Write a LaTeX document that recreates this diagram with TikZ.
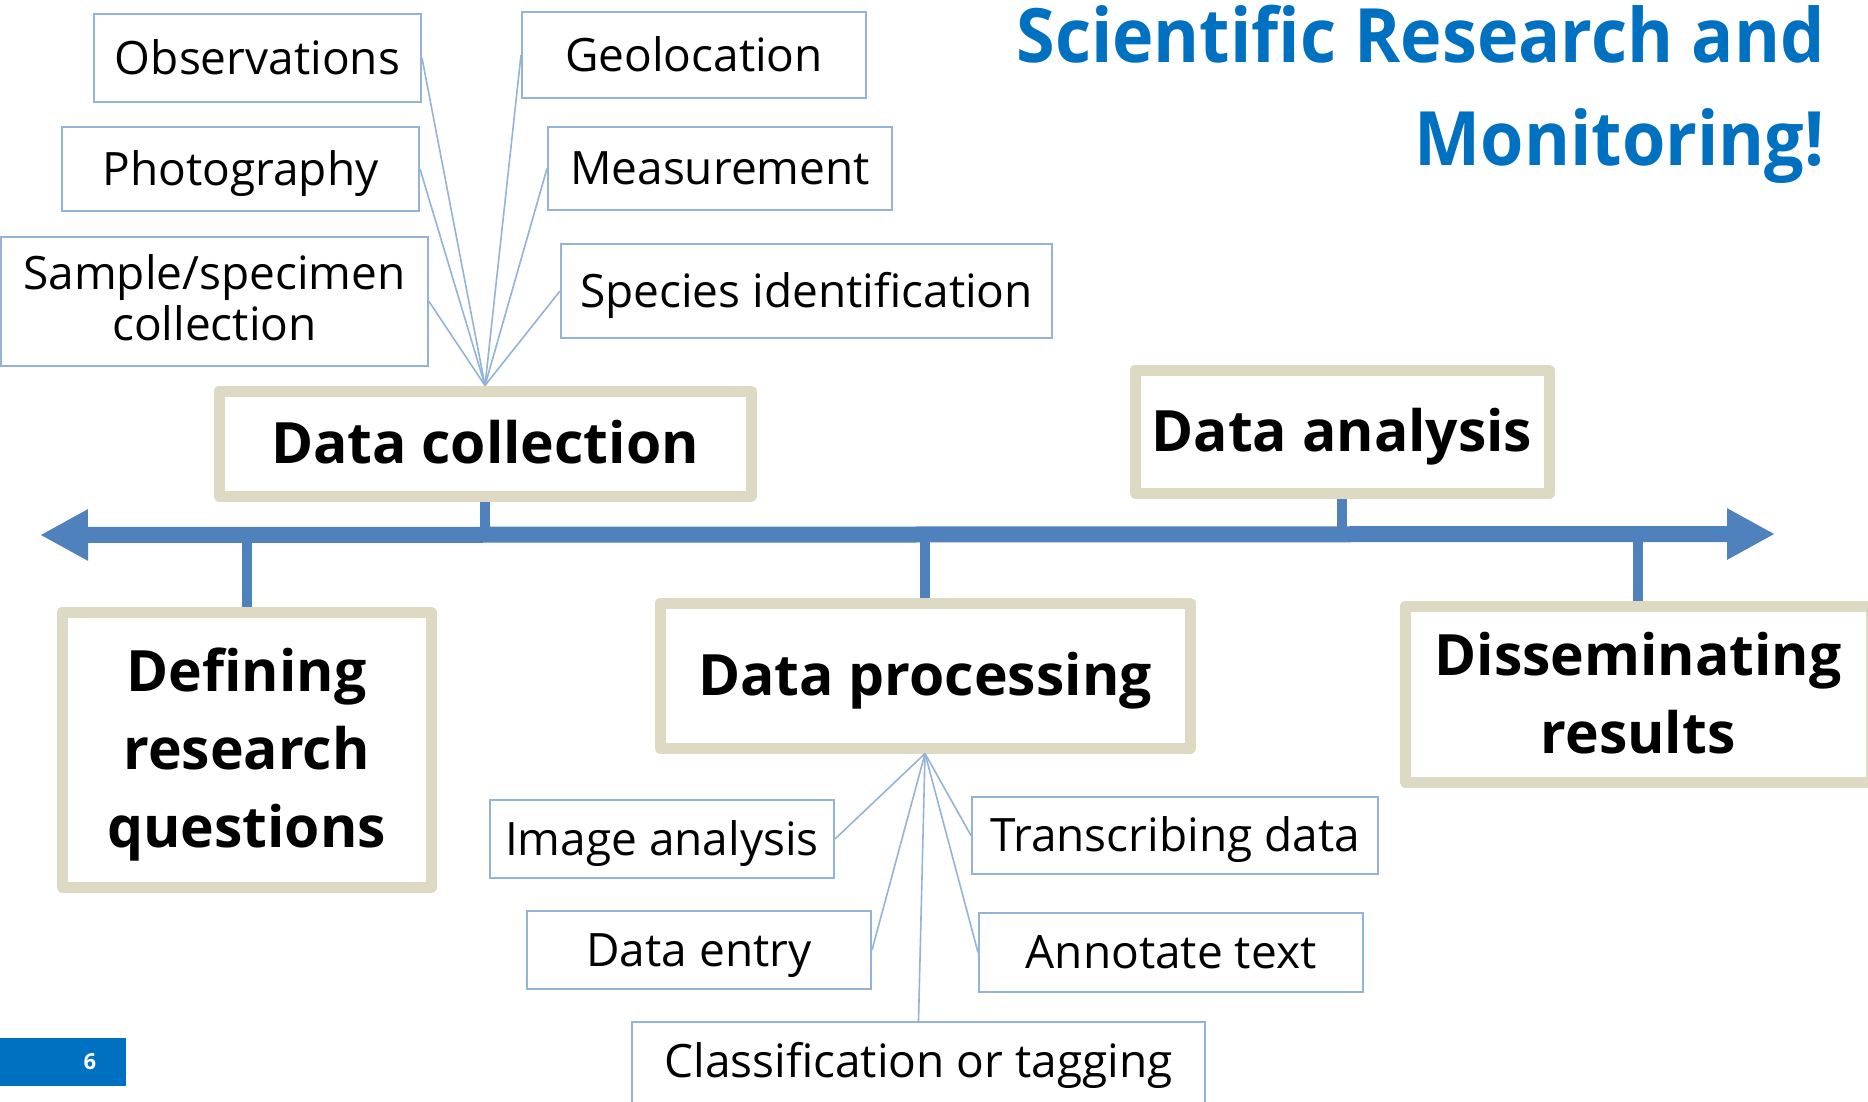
\documentclass[tikz,border=0pt]{standalone}
\usepackage{fontspec}
\setmainfont{Open Sans}
\usetikzlibrary{arrows.meta}
\definecolor{framebeige}{HTML}{DDD9C3}
\definecolor{axisblue}{HTML}{4F81BD}
\definecolor{thinblue}{HTML}{95B3D7}
\definecolor{titleblue}{HTML}{0070C0}

\begin{document}
\begin{tikzpicture}[x=0.5pt,y=-0.5pt,
  stage/.style={draw=framebeige, line width=5.5pt, line join=round, fill=white,
    inner sep=0pt, align=center, font=\bfseries\fontsize{28.5}{39}\selectfont,
    text height=20.35pt, text depth=0pt},
  task/.style={draw=thinblue, line width=1pt, fill=white, inner sep=0pt, align=center,
    font=\fontsize{23}{25.5}\selectfont, text height=16.4pt, text depth=0pt},
  fan/.style={draw=thinblue, line width=0.8pt},
  stub/.style={draw=axisblue, line width=5pt},
  axis/.style={draw=axisblue, line width=8pt,
    {Triangle[width=24pt,length=24pt]}-{Triangle[width=24pt,length=24pt]}},
  headline/.style={anchor=base east, inner sep=0pt, text=titleblue,
    font=\bfseries\fontsize{37.5}{40}\selectfont},
]
\clip (0,0) rectangle (1868,1102);
\useasboundingbox (0,0) rectangle (1868,1102);

% timeline ends
\coordinate (axisL) at (40,535);
\coordinate (axisR) at (1775,534);

% stages of the research cycle
\node[stage, minimum width=266pt, minimum height=52.5pt] (dc) at (485,443.5) {Data collection};
\node[stage, minimum width=184.5pt, minimum height=137.5pt, text height=98.35pt] (dr) at (246.5,749.5) {Defining\\research\\questions};
\node[stage, minimum width=265pt, minimum height=72.5pt] (dp) at (925,675.5) {Data processing};
\node[stage, minimum width=207pt, minimum height=61.5pt] (da) at (1342,431.5) {Data analysis};
\node[stage, minimum width=233pt, minimum height=88pt, text height=59.35pt] (ds) at (1638,694) {Disseminating\\results};

% stubs tying each stage to the timeline
\draw[stub] (dc.south) -- (dc.south |- axisL);
\draw[stub] (dr.north) -- (dr.north |- axisL);
\draw[stub] (dp.north) -- (dp.north |- axisL);
\draw[stub] (da.south) -- (da.south |- axisL);
\draw[stub] (ds.north) -- (ds.north |- axisL);

% the timeline itself
\draw[axis] (axisL) -- (axisR);

% data collection tasks
\node[task, minimum width=163.5pt, minimum height=44pt] (obs) at (257.5,58) {Observations};
\node[task, minimum width=172pt, minimum height=43pt] (geo) at (694,55) {Geolocation};
\node[task, minimum width=178.5pt, minimum height=42pt] (pho) at (240.5,169) {Photography};
\node[task, minimum width=172pt, minimum height=41.5pt] (mea) at (720,168.5) {Measurement};
\node[task, minimum width=213.5pt, minimum height=64.5pt, text height=41.9pt, text depth=3.4pt] (sam) at (214.5,301.5) {Sample/specimen\\collection};
\node[task, minimum width=245.5pt, minimum height=47pt] (spe) at (806.5,291) {Species identification};

% data processing tasks
\node[task, minimum width=172pt, minimum height=39pt] (img) at (662,839) {Image analysis};
\node[task, minimum width=172pt, minimum height=39pt] (ent) at (699,950) {Data entry};
\node[task, minimum width=286.5pt, minimum height=69pt, text depth=30.4pt] (cla) at (918.5,1091) {Classification or tagging};
\node[task, minimum width=203pt, minimum height=38.5pt] (tra) at (1175,835.5) {Transcribing data};
\node[task, minimum width=192pt, minimum height=39.5pt] (ann) at (1171,952.5) {Annotate text};

% fans
\foreach \t/\a in {obs/east, pho/east, sam/east, geo/west, mea/west, spe/west}
  \draw[fan] (dc.north) -- (\t.\a);
\foreach \t/\a in {img/east, ent/east, cla/north, tra/west, ann/west}
  \draw[fan] (dp.south) -- (\t.\a);

% title
\node[headline] (t1) at (1825,63) {\scalebox{0.935}[1]{Scientific Research and}};
\node[headline] (t2) at (1825,165) {\scalebox{0.935}[1]{Monitoring!}};

% slide number
\node[fill=titleblue, minimum width=63pt, minimum height=24pt, inner sep=0pt, anchor=north west] (pg) at (0,1038) {};
\node[text=white, inner sep=0pt, anchor=base, font=\bfseries\fontsize{11}{12}\selectfont] (pgn) at (90,1069) {6};
\end{tikzpicture}
\end{document}
